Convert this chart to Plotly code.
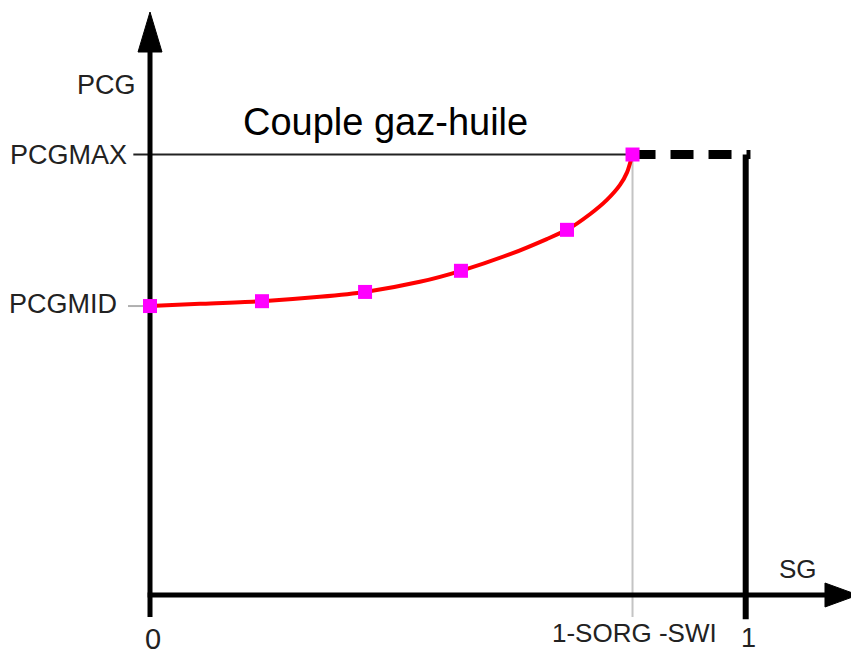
import plotly.graph_objects as go

# data (PCGMAX normalised to 1)
PCGMAX = 1.0
PCGMID = 0.656
SG_END = 0.81  # 1-SORG-SWI
SG_ONE = 1.0

# red curve
curve_sg = [0.0, 0.084, 0.188, 0.285, 0.361, 0.453, 0.522, 0.609, 0.666, 0.700, 0.739, 0.767, 0.789, 0.801, 0.81]
curve_pcg = [0.656, 0.661, 0.667, 0.677, 0.688, 0.711, 0.736, 0.776, 0.808, 0.829, 0.865, 0.897, 0.931, 0.960, 1.0]

# table points (magenta squares)
pts_sg = [0.0, 0.188, 0.361, 0.522, 0.700, 0.81]
pts_pcg = [0.656, 0.667, 0.688, 0.736, 0.829, 1.0]

x_ticks = ["0", "1-SORG -SWI", "1"]
y_ticks = ["PCGMID", "PCGMAX"]

FONT = "Liberation Sans, Arial, Helvetica, sans-serif"

# axis frame (page body has an 8px margin, so the figure is 851x647)
X_RANGE = [-0.2384, 1.1902]
Y_RANGE = [-0.1362, 1.3326]
Y_LOW = -0.05          # where vertical lines stop under the x axis
Y_ARROW_BASE, Y_ARROW_TIP = 1.2327, 1.3235
X_ARROW_BASE, X_ARROW_TIP = 1.1331, 1.1885
AH_X = 0.0201   # arrow half-width in x units
AH_Y = 0.0272   # arrow half-height in y units

fig = go.Figure()

# thin PCGMAX line
fig.add_trace(go.Scatter(x=[-0.028, SG_END], y=[PCGMAX, PCGMAX], mode="lines",
                         line=dict(color="#222222", width=2), hoverinfo="skip"))
# PCGMID tick (grey)
fig.add_trace(go.Scatter(x=[-0.037, -0.008], y=[PCGMID, PCGMID], mode="lines",
                         line=dict(color="#b0b0b0", width=2), hoverinfo="skip"))
# grey vertical at 1-SORG-SWI
fig.add_trace(go.Scatter(x=[SG_END, SG_END], y=[Y_LOW, PCGMAX], mode="lines",
                         line=dict(color="#c4c4c4", width=2), hoverinfo="skip"))
# thick black vertical at SG=1
fig.add_trace(go.Scatter(x=[SG_ONE, SG_ONE], y=[Y_LOW - 0.005, PCGMAX], mode="lines",
                         line=dict(color="black", width=6), hoverinfo="skip"))
# dashed segment at PCGMAX
fig.add_trace(go.Scatter(x=[SG_END, SG_ONE + 0.008], y=[PCGMAX, PCGMAX], mode="lines",
                         line=dict(color="black", width=9, dash="23px,15px"), hoverinfo="skip"))

# axes
fig.add_trace(go.Scatter(x=[0, 0], y=[Y_LOW, Y_ARROW_BASE], mode="lines",
                         line=dict(color="black", width=5), hoverinfo="skip"))
fig.add_trace(go.Scatter(x=[-0.004, X_ARROW_BASE], y=[0, 0], mode="lines",
                         line=dict(color="black", width=5), hoverinfo="skip"))
fig.add_trace(go.Scatter(x=[-AH_X, AH_X, 0, -AH_X], y=[Y_ARROW_BASE, Y_ARROW_BASE, Y_ARROW_TIP, Y_ARROW_BASE],
                         mode="lines", fill="toself", fillcolor="black",
                         line=dict(color="black", width=1), hoverinfo="skip"))
fig.add_trace(go.Scatter(x=[X_ARROW_BASE, X_ARROW_BASE, X_ARROW_TIP, X_ARROW_BASE], y=[-AH_Y, AH_Y, 0, -AH_Y],
                         mode="lines", fill="toself", fillcolor="black",
                         line=dict(color="black", width=1), hoverinfo="skip"))

# red curve + markers
fig.add_trace(go.Scatter(x=curve_sg, y=curve_pcg, mode="lines", line_shape="spline",
                         line=dict(color="#ff0000", width=4, smoothing=0.6), hoverinfo="skip"))
fig.add_trace(go.Scatter(x=pts_sg, y=pts_pcg, mode="markers",
                         marker=dict(symbol="square", size=14, color="#ff00ff"), hoverinfo="skip"))

# labels
def label(x, y, text, size, xanchor="center", yanchor="middle", color="#222222"):
    fig.add_annotation(x=x, y=y, text=text, showarrow=False, xanchor=xanchor, yanchor=yanchor,
                       font=dict(family=FONT, size=size, color=color))

label(-0.02, 1.158, "PCG", 27, xanchor="right")
label(-0.036, PCGMAX, y_ticks[1], 27, xanchor="right")
label(-0.052, PCGMID + 0.005, y_ticks[0], 27, xanchor="right")
label(1.087, 0.06, "SG", 26)
label(0.005, -0.1, x_ticks[0], 29)
label(0.814, -0.087, x_ticks[1], 26)
label(SG_ONE + 0.004, -0.098, x_ticks[2], 27)
label(0.395, 1.073, "Couple gaz-huile", 38, color="black")

fig.update_layout(
    width=851, height=647,
    margin=dict(l=0, r=0, t=0, b=0),
    paper_bgcolor="white", plot_bgcolor="white",
    showlegend=False,
    xaxis=dict(range=X_RANGE, visible=False, fixedrange=True),
    yaxis=dict(range=Y_RANGE, visible=False, fixedrange=True),
)

fig.write_html("out.html")
